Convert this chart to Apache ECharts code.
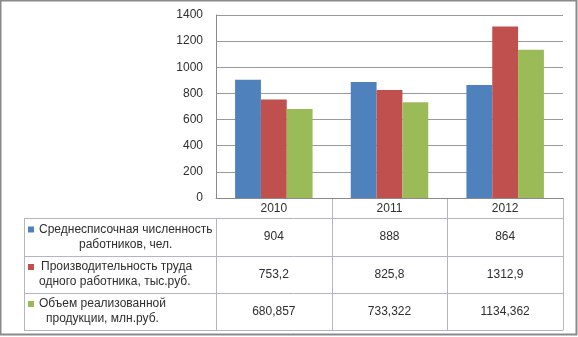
<!DOCTYPE html>
<html>
<head>
<meta charset="utf-8">
<style>
  html, body { margin: 0; padding: 0; background: #fff; }
  #chart { width: 578px; height: 337px; box-sizing: border-box; }
</style>
<script src="https://cdn.jsdelivr.net/npm/echarts@6/dist/echarts.min.js"></script>
</head>
<body>
<div id="chart"></div>
<script>
// Years along the category axis
const years = ['2010', '2011', '2012'];

// Series values
const headcount = [904, 888, 864];                // чел.
const productivity = [753.2, 825.8, 1312.9];      // тыс.руб.
const salesVolume = [680.857, 733.322, 1134.362]; // млн.руб.

// Series names (two lines each, as in the data table)
const headcountName = ['Среднесписочная численность', 'работников, чел.'];
const productivityName = ['Производительность труда', 'одного работника, тыс.руб.'];
const salesName = ['Объем реализованной', 'продукции, млн.руб.'];

// Decimal places shown in the table for each series
const decimals = [0, 1, 3];

// Value axis ticks
const yMin = 0, yMax = 1400, yStep = 200;

const colors = ['#4F81BD', '#C0504D', '#9BBB59'];
const font = 'Liberation Sans';
const textColor = '#2e2e2e';
const lineColor = '#b4b4c4';

// Plot frame
const W = 578, H = 337;
const plotL = 216, plotR = 563, plotT = 15, plotB = 198;
// Table rows (bottom edges) and label column
const headerB = 218;
const rowB = [256, 293, 330];
const tableL = 24;
// left edge of each label line inside the label column
const labelLineX = [[39, 79], [41, 39], [39, 46]];

const seriesList = [
  { name: headcountName, data: headcount },
  { name: productivityName, data: productivity },
  { name: salesName, data: salesVolume }
];

const chart = echarts.init(document.getElementById('chart'), null, { renderer: 'canvas' });

function fmt(v, d) {
  return v.toFixed(d).replace('.', ',');
}

const graphics = [];
// outer frame
graphics.push({ type: 'rect', shape: { x: 0.5, y: 0.5, width: W - 2, height: H - 3 },
  style: { fill: null, stroke: '#8a8a8a', lineWidth: 2 }, silent: true });

// table horizontal lines
[headerB].concat(rowB).forEach(function (y) {
  graphics.push({ type: 'line', shape: { x1: tableL, y1: y + 0.5, x2: plotR, y2: y + 0.5 },
    style: { stroke: lineColor, lineWidth: 1 }, silent: true });
});
// table verticals: category boundaries
const catW = (plotR - plotL) / years.length;
for (let i = 1; i <= years.length; i++) {
  const x = Math.round(plotL + i * catW) + 0.5;
  graphics.push({ type: 'line', shape: { x1: x, y1: plotB, x2: x, y2: rowB[rowB.length - 1] + 0.5 },
    style: { stroke: lineColor, lineWidth: 1 }, silent: true });
}
graphics.push({ type: 'line', shape: { x1: plotL + 0.5, y1: headerB, x2: plotL + 0.5, y2: rowB[rowB.length - 1] + 0.5 },
  style: { stroke: lineColor, lineWidth: 1 }, silent: true });
graphics.push({ type: 'line', shape: { x1: tableL + 0.5, y1: headerB, x2: tableL + 0.5, y2: rowB[rowB.length - 1] + 0.5 },
  style: { stroke: lineColor, lineWidth: 1 }, silent: true });

// row labels with legend keys, and values
seriesList.forEach(function (s, r) {
  const top = r === 0 ? headerB : rowB[r - 1];
  const bot = rowB[r];
  const mid = (top + bot) / 2;
  const lh = 15;
  s.name.forEach(function (line, k) {
    graphics.push({ type: 'text', x: labelLineX[r][k], y: mid + (k - 0.5) * lh,
      style: { text: line, fill: textColor, font: '12px "' + font + '"', align: 'left', verticalAlign: 'middle' },
      silent: true });
  });
  graphics.push({ type: 'rect', shape: { x: 28, y: mid - lh / 2 - 3, width: 6, height: 6 },
    style: { fill: colors[r] }, silent: true });
  s.data.forEach(function (v, c) {
    graphics.push({ type: 'text', x: plotL + (c + 0.5) * catW, y: mid,
      style: { text: fmt(v, decimals[r]), fill: textColor, font: '12px "' + font + '"', align: 'center', verticalAlign: 'middle' },
      silent: true });
  });
});

chart.setOption({
  animation: false,
  backgroundColor: '#ffffff',
  textStyle: { fontFamily: font },
  grid: { left: plotL, right: W - plotR, top: plotT, bottom: H - plotB, containLabel: false },
  xAxis: {
    type: 'category',
    data: years,
    axisLine: { show: true, lineStyle: { color: '#8a8a8a', width: 1 } },
    axisTick: { show: false },
    axisLabel: { color: textColor, fontSize: 12, fontFamily: font, margin: 5 }
  },
  yAxis: {
    type: 'value',
    min: yMin, max: yMax, interval: yStep,
    axisLine: { show: true, lineStyle: { color: '#8a8a8a', width: 1 } },
    axisTick: { show: false },
    axisLabel: { color: textColor, fontSize: 12, fontFamily: font, margin: 13,
      formatter: function (v) { return String(v); } },
    splitLine: { show: true, lineStyle: { color: '#9a9a9a', width: 1 } }
  },
  series: seriesList.map(function (s, i) {
    return {
      type: 'bar',
      name: s.name.join(' '),
      data: s.data,
      barGap: '0%',
      barCategoryGap: '33%',
      itemStyle: { color: colors[i] }
    };
  }),
  graphic: graphics
});
</script>
</body>
</html>
